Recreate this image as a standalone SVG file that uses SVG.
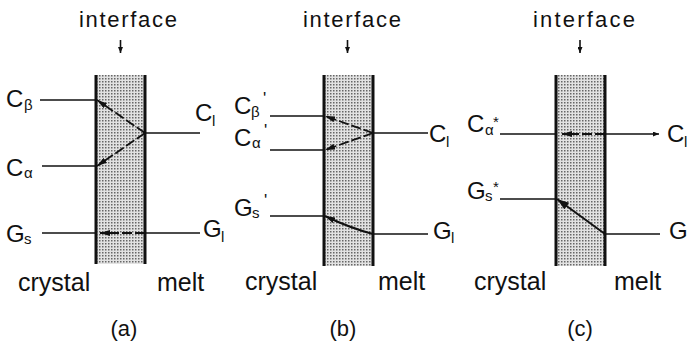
<svg xmlns="http://www.w3.org/2000/svg" width="689" height="348" viewBox="0 0 689 348">
<style>
text{font-family:"Liberation Sans",Arial,Helvetica,sans-serif;fill:#111}
.big{font-size:24px}
.lab{font-size:25px}
.sub{font-size:15px}
.pr{font-size:17px}
.ttl{font-size:22px}
.cap{font-size:22px}
.wall{stroke:#111;stroke-width:3}
.ln{stroke:#111;stroke-width:1.6;fill:none}
.dash{stroke:#111;stroke-width:1.8;fill:none;stroke-dasharray:10 3}
.sol{stroke:#111;stroke-width:2;fill:none}
.zone{fill:url(#stip)}
</style>
<defs>
<pattern id="stip" width="3" height="3" patternUnits="userSpaceOnUse">
<rect width="3" height="3" fill="#e2e2e2"/>
<rect width="1.5" height="1.5" fill="#666"/>
</pattern>
<marker id="ah" markerWidth="10" markerHeight="6" refX="10" refY="3" orient="auto" markerUnits="userSpaceOnUse">
<path d="M0,0 L10,3 L0,6 Z" fill="#111"/>
</marker>
<marker id="ahb" markerWidth="12" markerHeight="8" refX="12" refY="4" orient="auto" markerUnits="userSpaceOnUse">
<path d="M0,0 L12,4 L0,8 Z" fill="#111"/>
</marker>
<marker id="ahs" markerWidth="6" markerHeight="5" refX="6" refY="2.5" orient="auto" markerUnits="userSpaceOnUse">
<path d="M0,0 L6,2.5 L0,5 Z" fill="#111"/>
</marker>
</defs>

<g id="panel-a">
<g id="interface-a">
<rect class="zone" x="96" y="75" width="49" height="189"/>
<line class="wall" x1="96" y1="75" x2="96" y2="264"/>
<line class="wall" x1="145" y1="75" x2="145" y2="264"/>
</g>
<text class="ttl" x="79" y="27" textLength="98" lengthAdjust="spacing">interface</text>
<g id="c-beta-a"><text class="big" x="6" y="107">C</text><text class="sub" x="24" y="110">β</text></g>
<g id="c-alpha-a"><text class="big" x="6" y="176">C</text><text class="sub" x="24" y="178">α</text></g>
<g id="g-s-a"><text class="big" x="6" y="242">G</text><text class="sub" x="24" y="244">s</text></g>
<g id="c-l-a"><text class="big" x="195" y="121">C</text><text class="sub" x="212" y="126">l</text></g>
<g id="g-l-a"><text class="big" x="203" y="237">G</text><text class="sub" x="221" y="242">l</text></g>
<text class="lab" x="18" y="291">crystal</text>
<text class="lab" x="157" y="291">melt</text>
<text class="cap" x="124" y="336" text-anchor="middle">(a)</text>
</g>

<g id="panel-b">
<g id="interface-b">
<rect class="zone" x="324" y="75" width="49" height="191"/>
<line class="wall" x1="324" y1="75" x2="324" y2="266"/>
<line class="wall" x1="373" y1="75" x2="373" y2="266"/>
</g>
<text class="ttl" x="303" y="27" textLength="98" lengthAdjust="spacing">interface</text>
<g id="c-beta-b"><text class="big" x="234" y="114">C</text><text class="sub" x="251" y="117">β</text><text class="pr" x="263" y="104">'</text></g>
<g id="c-alpha-b"><text class="big" x="234" y="146">C</text><text class="sub" x="252" y="148">α</text><text class="pr" x="264" y="136">'</text></g>
<g id="g-s-b"><text class="big" x="234" y="216">G</text><text class="sub" x="252" y="218">s</text><text class="pr" x="264" y="206">'</text></g>
<g id="c-l-b"><text class="big" x="429" y="142">C</text><text class="sub" x="446" y="147">l</text></g>
<g id="g-l-b"><text class="big" x="433" y="239">G</text><text class="sub" x="451" y="243">l</text></g>
<text class="lab" x="245" y="290">crystal</text>
<text class="lab" x="378" y="290">melt</text>
<text class="cap" x="343" y="336" text-anchor="middle">(b)</text>
</g>

<g id="panel-c">
<g id="interface-c">
<rect class="zone" x="556" y="75" width="49" height="191"/>
<line class="wall" x1="556" y1="75" x2="556" y2="266"/>
<line class="wall" x1="605" y1="75" x2="605" y2="266"/>
</g>
<text class="ttl" x="533" y="27" textLength="102" lengthAdjust="spacing">interface</text>
<g id="c-alpha-c"><text class="big" x="467" y="132">C</text><text class="sub" x="485" y="135">α</text><text class="sub" x="493" y="127">*</text></g>
<g id="g-s-c"><text class="big" x="467" y="199">G</text><text class="sub" x="485" y="201">s</text><text class="sub" x="493" y="192">*</text></g>
<g id="c-l-c"><text class="big" x="667" y="142">C</text><text class="sub" x="684" y="147">l</text></g>
<g id="g-c"><text class="big" x="669" y="239">G</text></g>
<text class="lab" x="474" y="290">crystal</text>
<text class="lab" x="614" y="290">melt</text>
<text class="cap" x="580" y="336" text-anchor="middle">(c)</text>
</g>

<g id="connectors">
<line class="ln" x1="120.5" y1="40" x2="120.5" y2="53" marker-end="url(#ahs)"/>
<line class="ln" x1="347.5" y1="40" x2="347.5" y2="53" marker-end="url(#ahs)"/>
<line class="ln" x1="580" y1="40" x2="580" y2="53" marker-end="url(#ahs)"/>

<line class="ln" x1="40" y1="100" x2="96" y2="100"/>
<line class="ln" x1="42" y1="166" x2="96" y2="166"/>
<line class="ln" x1="42" y1="233" x2="96" y2="233"/>
<line class="ln" x1="145" y1="133" x2="200" y2="133"/>
<line class="ln" x1="145" y1="233" x2="200" y2="233"/>
<line class="dash" x1="145" y1="133" x2="97" y2="100" marker-end="url(#ah)"/>
<line class="dash" x1="145" y1="133" x2="97" y2="166" marker-end="url(#ah)"/>
<line class="dash" x1="145" y1="233" x2="100" y2="233" marker-end="url(#ah)"/>

<line class="ln" x1="270" y1="116" x2="324" y2="116"/>
<line class="ln" x1="270" y1="150" x2="324" y2="150"/>
<line class="ln" x1="270" y1="216" x2="324" y2="216"/>
<line class="ln" x1="373" y1="133" x2="428" y2="133"/>
<line class="ln" x1="373" y1="234" x2="428" y2="234"/>
<line class="dash" x1="373" y1="133" x2="325" y2="116" marker-end="url(#ah)"/>
<line class="dash" x1="373" y1="133" x2="325" y2="150" marker-end="url(#ah)"/>
<path class="sol" d="M373,234 Q350,228 325,216" marker-end="url(#ah)"/>

<line class="ln" x1="500" y1="134" x2="556" y2="134"/>
<line class="ln" x1="605" y1="134" x2="659" y2="134" marker-end="url(#ahs)"/>
<line class="dash" x1="605" y1="134" x2="562" y2="134" marker-end="url(#ah)"/>
<line class="ln" x1="500" y1="199" x2="556" y2="199"/>
<line class="ln" x1="605" y1="234" x2="660" y2="234"/>
<line class="sol" x1="605" y1="234" x2="557" y2="199" marker-end="url(#ahb)"/>
</g>
</svg>
